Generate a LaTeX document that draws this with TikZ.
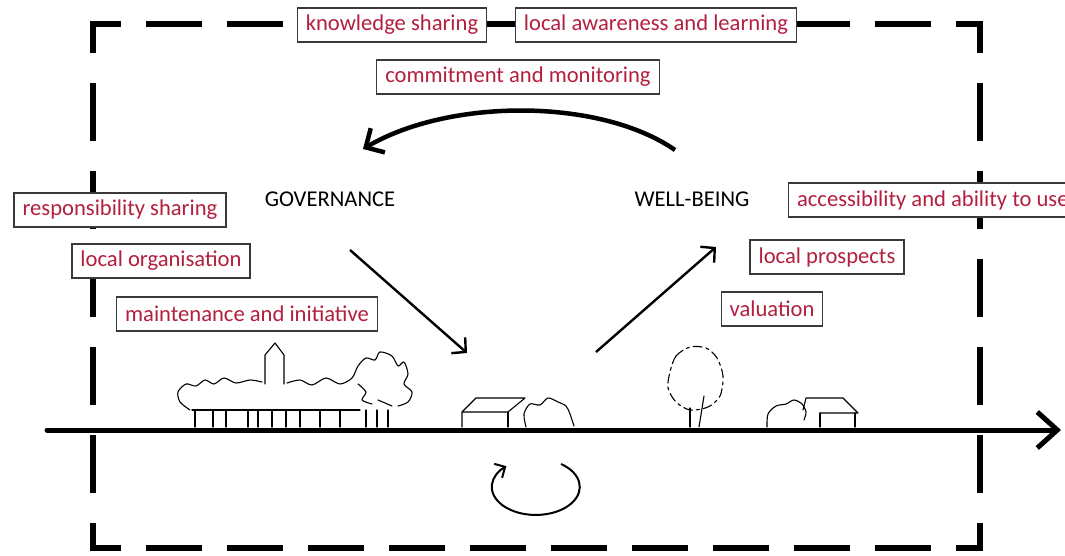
\documentclass[tikz,border=0pt]{standalone}
\usepackage{fontspec}
\setmainfont{Carlito}
\usetikzlibrary{arrows.meta}

\definecolor{factorRed}{HTML}{B3203F}
\definecolor{boxGray}{HTML}{3A3A3A}

\begin{document}
\begin{tikzpicture}[x=1pt, y=-1pt,
    every node/.style={font=\fontsize{22.6}{26}\selectfont},
    factor/.style={draw=boxGray, line width=1.2pt, fill=white, text=factorRed,
        minimum height=34pt, inner xsep=8.5pt, inner ysep=0pt},
    theme/.style={text=black},
    frameH/.style={line width=6pt, line cap=rect, dash pattern=on 50pt off 31pt, dash phase=25pt},
    frameV/.style={line width=6pt, line cap=rect, dash pattern=on 52pt off 36pt, dash phase=26pt},
    flow/.style={line width=2.4pt, -{Straight Barb[length=10pt, width=21pt]}},
    sketch/.style={line width=1.1pt, line join=round, line cap=round}]
    \useasboundingbox (0,0) rectangle (1065,556);

    % dashed frame
    \coordinate (tl) at (93,24);
    \coordinate (tr) at (980,24);
    \coordinate (bl) at (93,548);
    \coordinate (br) at (980,548);
    \draw[frameH] (tl) -- (tr);
    \draw[frameH] (bl) -- (br);
    \draw[frameV] (tl) -- (bl);
    \draw[frameV] (tr) -- (br);

    % time axis
    \coordinate (axisStart) at (47,430);
    \coordinate (axisEnd) at (1061,430);
    \draw[line width=5pt, line cap=round, -{Straight Barb[length=20pt, width=36pt]}] (axisStart) -- (axisEnd);

    % village on the left
    \draw[sketch] plot[smooth] coordinates {(190,410) (180,402) (178,392) (186,384) (196,386) (205,380) (214,384) (224,378) (236,383) (250,380) (262,382)};
    \draw[sketch] (265,384) -- (265,355) -- (275,343) -- (284,355) -- (284,384);
    \draw[sketch] plot[smooth] coordinates {(287,383) (300,380) (312,385) (326,378) (340,384) (352,378) (358,366) (366,358) (375,360) (380,352) (392,356) (398,366) (404,362) (408,374) (404,384) (412,392) (408,402) (398,406)};
    \draw[sketch] plot[smooth] coordinates {(358,384) (366,392) (362,400) (372,404)};
    \draw[sketch] (192,410) -- (360,410);
    \foreach \t in {195,213,226,248,258,272,286,300,320,340,366,377,388}
        \draw[sketch] (\t,410) -- (\t,427);
    \draw[sketch] (378,400) -- (392,406);

    % house and bush in the middle
    \draw[sketch] (462,427) -- (462,412) -- (476,398) -- (525,398) -- (508,412) -- (462,412);
    \draw[sketch] (508,412) -- (508,427);
    \draw[sketch] plot[smooth] coordinates {(526,427) (524,414) (530,404) (540,405) (548,398) (558,402) (566,406) (570,414) (574,426)};

    % tree on the right
    \draw[sketch, dash pattern=on 9pt off 4pt on 3pt off 4pt] plot[smooth cycle] coordinates {(670,372) (676,356) (690,347) (706,348) (717,358) (723,376) (720,396) (708,407) (690,410) (676,402) (668,388)};
    \draw[sketch] (690,408) -- (690,427);
    \draw[sketch] (704,396) -- (699,427);

    % bush and house on the right
    \draw[sketch] plot[smooth] coordinates {(767,427) (768,414) (776,406) (786,404) (794,400) (802,404) (806,412) (804,420)};
    \draw[sketch] (803,410) -- (806,398) -- (843,398) -- (858,413) -- (820,413);
    \draw[sketch] (820,413) -- (820,427);
    \draw[sketch] (855,413) -- (855,427);

    % themes
    \node[theme] (governance) at (330,199) {GOVERNANCE};
    \node[theme] (wellbeing) at (692,199) {WELL-BEING};

    % factors
    \node[factor] (knowledge) at (392,25) {knowledge sharing};
    \node[factor] (awareness) at (656,25) {local awareness and learning};
    \node[factor] (commitment) at (518,77) {commitment and monitoring};
    \node[factor] (responsibility) at (120,210) {responsibility sharing};
    \node[factor] (organisation) at (161,261) {local organisation};
    \node[factor] (maintenance) at (247,314) {maintenance and initiative};
    \node[factor, anchor=west] (accessibility) at (788,200) {accessibility and ability to use};
    \node[factor] (prospects) at (827,257) {local prospects};
    \node[factor] (valuation) at (772,309) {valuation};

    % cycle arrows
    \coordinate (wbTop) at (675,150);
    \coordinate (govTop) at (363,149);
    \draw[line width=4.5pt, -{Straight Barb[length=14pt, width=28pt]}] (wbTop) .. controls (600,98) and (450,98) .. (govTop);

    \coordinate (govOut) at (350,250);
    \coordinate (placeIn) at (467,353);
    \coordinate (placeOut) at (596,352);
    \coordinate (wbIn) at (716,247);
    \draw[flow] (govOut) -- (placeIn);
    \draw[flow] (placeOut) -- (wbIn);

    \coordinate (loopStart) at (561,464);
    \draw[line width=2pt, -{Straight Barb[length=8pt, width=16pt]}] (loopStart) arc[start angle=-55, end angle=228, x radius=44, y radius=28];
\end{tikzpicture}
\end{document}
